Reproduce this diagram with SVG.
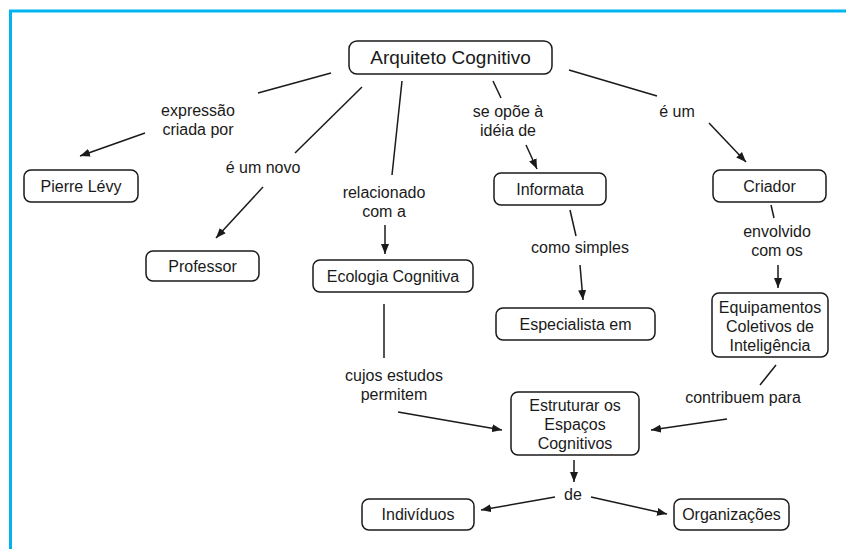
<svg xmlns="http://www.w3.org/2000/svg" width="846" height="549" viewBox="0 0 846 549">
  <style>
    .box { fill: #ffffff; stroke: #1a1a1a; stroke-width: 1.5; }
    .t { font-family: "Liberation Sans", Arial, sans-serif; font-size: 16px; fill: #1a1a1a; text-anchor: middle; }
    .title { font-size: 19px; }
    .ln { stroke: #1a1a1a; stroke-width: 1.5; fill: none; }
    .ar { stroke: #1a1a1a; stroke-width: 1.5; fill: none; marker-end: url(#head); }
  </style>
  <defs>
    <marker id="head" viewBox="0 0 10 8" refX="10" refY="4" markerWidth="10" markerHeight="8" markerUnits="userSpaceOnUse" orient="auto">
      <path d="M0,0 L10,4 L0,8 Z" fill="#1a1a1a"/>
    </marker>
  </defs>

  <rect width="846" height="549" fill="#ffffff"/>
  <!-- page frame -->
  <path d="M10.5,549 V11 H846" fill="none" stroke="#00b4ef" stroke-width="3"/>

  <g id="connectors">
    <!-- Arquiteto -> Pierre Lévy -->
    <line class="ln" x1="331" y1="73" x2="258" y2="93"/>
    <line class="ar" x1="145" y1="133" x2="80" y2="156"/>
    <!-- Arquiteto -> Professor -->
    <line class="ln" x1="362" y1="87" x2="295" y2="153"/>
    <line class="ar" x1="263" y1="187" x2="216" y2="238"/>
    <!-- Arquiteto -> Ecologia Cognitiva -->
    <line class="ln" x1="402" y1="81" x2="392" y2="175"/>
    <line class="ar" x1="385" y1="225" x2="385" y2="254"/>
    <!-- Arquiteto -> Informata -->
    <line class="ln" x1="493" y1="81" x2="501" y2="98"/>
    <line class="ar" x1="526" y1="145" x2="537" y2="169"/>
    <!-- Arquiteto -> Criador -->
    <line class="ln" x1="569" y1="70" x2="657" y2="96"/>
    <line class="ar" x1="709" y1="123" x2="746" y2="162"/>
    <!-- Informata -> Especialista em -->
    <line class="ln" x1="570" y1="210" x2="576" y2="236"/>
    <line class="ar" x1="580" y1="265" x2="583" y2="300"/>
    <!-- Criador -> Equipamentos -->
    <line class="ln" x1="771" y1="205" x2="774" y2="218"/>
    <line class="ar" x1="778" y1="265" x2="778" y2="288"/>
    <!-- Ecologia -> Estruturar -->
    <line class="ln" x1="384" y1="304" x2="384" y2="358"/>
    <line class="ar" x1="398" y1="412" x2="502" y2="430"/>
    <!-- Equipamentos -> Estruturar -->
    <line class="ln" x1="776" y1="365" x2="760" y2="385"/>
    <line class="ar" x1="727" y1="419" x2="651" y2="430"/>
    <!-- Estruturar -> de -->
    <line class="ar" x1="574" y1="460" x2="574" y2="482"/>
    <!-- de -> Indivíduos / Organizações -->
    <line class="ar" x1="555" y1="497" x2="481" y2="510"/>
    <line class="ar" x1="591" y1="497" x2="667" y2="514"/>
  </g>

  <g id="labels">
    <text class="t" x="198" y="116">expressão</text>
    <text class="t" x="198" y="135">criada por</text>
    <text class="t" x="263" y="173">é um novo</text>
    <text class="t" x="384" y="198">relacionado</text>
    <text class="t" x="384" y="217">com a</text>
    <text class="t" x="508" y="117">se opõe à</text>
    <text class="t" x="508" y="136">idéia de</text>
    <text class="t" x="677" y="117">é um</text>
    <text class="t" x="580" y="253">como simples</text>
    <text class="t" x="777" y="237">envolvido</text>
    <text class="t" x="777" y="256">com os</text>
    <text class="t" x="394" y="381">cujos estudos</text>
    <text class="t" x="394" y="400">permitem</text>
    <text class="t" x="743" y="403">contribuem para</text>
    <text class="t" x="573" y="500">de</text>
  </g>

  <g id="n-arquiteto">
    <rect class="box" x="349" y="41" width="203" height="33" rx="8"/>
    <text class="t title" x="450.5" y="64">Arquiteto Cognitivo</text>
  </g>
  <g id="n-pierre">
    <rect class="box" x="24" y="170" width="114" height="32" rx="7"/>
    <text class="t" x="81" y="192">Pierre Lévy</text>
  </g>
  <g id="n-professor">
    <rect class="box" x="146" y="251" width="113" height="30" rx="7"/>
    <text class="t" x="202.5" y="272">Professor</text>
  </g>
  <g id="n-ecologia">
    <rect class="box" x="313" y="260" width="160" height="32" rx="7"/>
    <text class="t" x="393" y="282">Ecologia Cognitiva</text>
  </g>
  <g id="n-informata">
    <rect class="box" x="494" y="173" width="112" height="32" rx="7"/>
    <text class="t" x="550" y="195">Informata</text>
  </g>
  <g id="n-criador">
    <rect class="box" x="713" y="170" width="113" height="32" rx="7"/>
    <text class="t" x="769.5" y="192">Criador</text>
  </g>
  <g id="n-especialista">
    <rect class="box" x="496" y="308" width="159" height="32" rx="7"/>
    <text class="t" x="575.5" y="330">Especialista em</text>
  </g>
  <g id="n-equipamentos">
    <rect class="box" x="712" y="293" width="116" height="64" rx="7"/>
    <text class="t" x="770" y="313">Equipamentos</text>
    <text class="t" x="770" y="332">Coletivos de</text>
    <text class="t" x="770" y="351">Inteligência</text>
  </g>
  <g id="n-estruturar">
    <rect class="box" x="511" y="392" width="128" height="63" rx="7"/>
    <text class="t" x="575" y="411">Estruturar os</text>
    <text class="t" x="575" y="430">Espaços</text>
    <text class="t" x="575" y="449">Cognitivos</text>
  </g>
  <g id="n-individuos">
    <rect class="box" x="362" y="499" width="112" height="31" rx="7"/>
    <text class="t" x="418" y="520">Indivíduos</text>
  </g>
  <g id="n-organizacoes">
    <rect class="box" x="674" y="499" width="115" height="31" rx="7"/>
    <text class="t" x="731.5" y="520">Organizações</text>
  </g>
</svg>
